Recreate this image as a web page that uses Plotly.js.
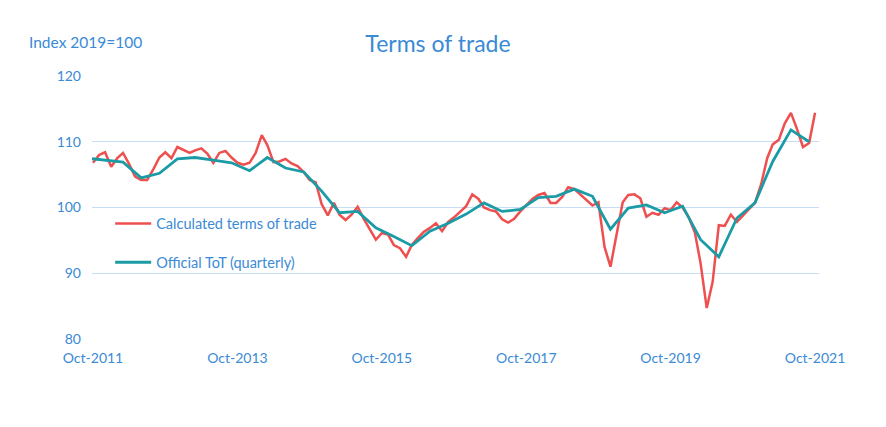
<!DOCTYPE html>
<html>
<head>
<meta charset="utf-8">
<script src="https://cdn.plot.ly/plotly-3.0.1.min.js"></script>
<style>
  html, body { margin: 0; padding: 0; background: #ffffff; }
  #chart { width: 886px; height: 427px; }
</style>
</head>
<body>
<div id="chart"></div>
<script>
// Monthly calculated terms of trade, Oct-2011 .. Oct-2021 (121 months)
const calcStart = [2011, 10];
const calculatedToT = [
  106.8, 108.0, 108.4, 106.2, 107.5, 108.3, 106.6, 104.7, 104.2, 104.2, 105.8, 107.6,
  108.4, 107.5, 109.2, 108.7, 108.3, 108.7, 109.0, 108.2, 106.8, 108.3, 108.6, 107.6,
  106.8, 106.5, 106.8, 108.3, 111.0, 109.5, 106.9, 107.0, 107.4, 106.7, 106.3, 105.4,
  104.2, 103.8, 100.5, 98.8, 100.7, 98.9, 98.1, 98.9, 100.1, 98.3, 96.8, 95.1,
  96.1, 95.9, 94.3, 93.8, 92.5, 94.3, 95.4, 96.3, 96.9, 97.6, 96.4, 97.8,
  98.5, 99.3, 100.2, 102.0, 101.3, 100.0, 99.6, 99.4, 98.2, 97.7, 98.3, 99.4,
  100.3, 101.3, 101.9, 102.2, 100.7, 100.7, 101.6, 103.1, 102.8, 102.0, 101.2, 100.3,
  100.8, 94.0, 91.0, 96.0, 100.8, 101.9, 102.0, 101.4, 98.6, 99.2, 98.9, 99.9,
  99.6, 100.8, 100.0, 98.5, 96.2, 91.5, 84.7, 88.7, 97.3, 97.2, 98.9, 97.8,
  98.8, 99.7, 100.7, 103.5, 107.5, 109.6, 110.3, 112.8, 114.4, 112.0, 109.2, 109.8,
  114.4
];

// Quarterly official terms of trade, Sep-2011 .. Sep-2021 (41 quarters)
const offStart = [2011, 9];
const officialToT = [
  107.5, 107.2, 106.9, 104.5, 105.2, 107.4, 107.6, 107.2, 106.8, 105.6, 107.6,
  106.0, 105.4, 102.5, 99.2, 99.4, 96.9, 95.6, 94.2, 96.4, 97.6, 99.0,
  100.7, 99.4, 99.7, 101.5, 101.7, 102.8, 101.7, 96.7, 99.9, 100.4, 99.2,
  100.2, 95.1, 92.5, 98.4, 100.7, 107.0, 111.8, 110.0
];

const seriesNames = ["Calculated terms of trade", "Official ToT (quarterly)"];
const chartTitle = "Terms of trade";
const unitLabel = "Index 2019=100";

function monthDates(start, n, step) {
  const out = [];
  let y = start[0], m = start[1];
  for (let k = 0; k < n; k++) {
    out.push(y + "-" + String(m).padStart(2, "0") + "-01");
    m += step;
    while (m > 12) { m -= 12; y += 1; }
  }
  return out;
}

const calcDates = monthDates(calcStart, calculatedToT.length, 1);
const offDates = monthDates(offStart, officialToT.length, 3);

const textBlue = "#3a8ad6";
const fontFam = "Lato, 'Open Sans', sans-serif";

const traces = [
  {
    x: calcDates, y: calculatedToT, name: seriesNames[0],
    type: "scatter", mode: "lines", legendgroup: "a",
    line: { color: "#ee4f4f", width: 2.5 }
  },
  {
    x: offDates, y: officialToT, name: seriesNames[1],
    type: "scatter", mode: "lines", legendgroup: "b",
    line: { color: "#1a9ba6", width: 2.8 }
  }
];

const layout = {
  width: 886, height: 427,
  paper_bgcolor: "#ffffff", plot_bgcolor: "#ffffff",
  margin: { l: 92, r: 67, t: 76, b: 88 },
  font: { family: fontFam, color: textBlue, size: 14 },
  title: {
    text: chartTitle, font: { family: fontFam, size: 23, color: textBlue },
    x: 438 / 886, xref: "container", xanchor: "center",
    y: 1 - 44 / 427, yref: "container", yanchor: "middle"
  },
  xaxis: {
    type: "date",
    range: ["2011-09-26", "2021-10-21"],
    tick0: "2011-10-01", dtick: "M24", tickformat: "%b-%Y",
    showgrid: false, zeroline: false, showline: false, ticks: "",
    ticklabelstandoff: 9,
    tickfont: { family: fontFam, size: 14, color: textBlue }
  },
  yaxis: {
    range: [80, 120], dtick: 10,
    showgrid: true, gridcolor: "#c6ddf5", gridwidth: 1,
    zeroline: false, showline: false, ticks: "",
    ticklabelstandoff: 10,
    tickfont: { family: fontFam, size: 14, color: textBlue }
  },
  legend: {
    x: 0.025, y: 0.50, xanchor: "left", yanchor: "top",
    bgcolor: "rgba(0,0,0,0)",
    traceorder: "grouped", tracegroupgap: 17, itemwidth: 36,
    font: { family: fontFam, size: 14.5, color: textBlue }
  },
  annotations: [{
    text: unitLabel, xref: "paper", yref: "paper",
    x: (27 - 92) / 727, y: (339 - 42) / 263, xanchor: "left", yanchor: "middle",
    showarrow: false, font: { family: fontFam, size: 15.5, color: textBlue }
  }]
};

Plotly.newPlot("chart", traces, layout, { displayModeBar: false, staticPlot: true });
</script>
</body>
</html>
